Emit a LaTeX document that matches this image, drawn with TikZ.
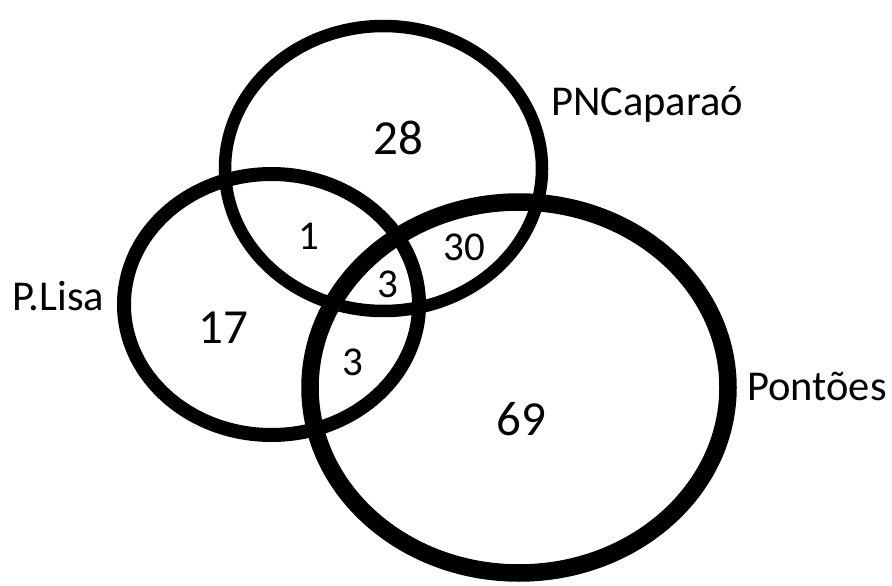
\documentclass[tikz,border=0pt]{standalone}
\usepackage{fontspec}
\setmainfont{Carlito}
\begin{document}
\begin{tikzpicture}[x=1pt,y=-1pt,
  ring/.style={draw=black},
  bignum/.style={anchor=base, inner sep=0pt, font=\fontsize{49}{54}\selectfont},
  smallnum/.style={anchor=base, inner sep=0pt, font=\fontsize{41}{46}\selectfont},
  setlabel/.style={anchor=base west, inner sep=0pt, font=\fontsize{42.5}{48}\selectfont}]
\useasboundingbox (0,0) rectangle (892,586);
\fill[white] (0,0) rectangle (892,586);
% sets
\draw[ring, line width=12.5pt] (383.5,168.5) ellipse [x radius=158.5pt, y radius=142.5pt];
\draw[ring, line width=14pt] (271.5,304.5) ellipse [x radius=147.5pt, y radius=130.5pt];
\draw[ring, line width=17.5pt] (519,387.5) ellipse [x radius=209pt, y radius=185.5pt];
% counts
\node[bignum] (n28) at (398,154) {28};
\node[smallnum] (n1) at (309,249) {1};
\node[smallnum] (n30) at (464,260) {30};
\node[smallnum] (n3a) at (388,297) {3};
\node[smallnum] (n3b) at (353,375) {3};
\node[bignum] (n17) at (223,343) {17};
\node[bignum] (n69) at (521,435) {69};
% labels
\node[setlabel] (pnc) at (551,115) {PNCaparaó};
\node[setlabel] (plisa) at (12,310) {P.Lisa};
\node[setlabel] (pont) at (747,400) {Pontões};
\end{tikzpicture}
\end{document}
